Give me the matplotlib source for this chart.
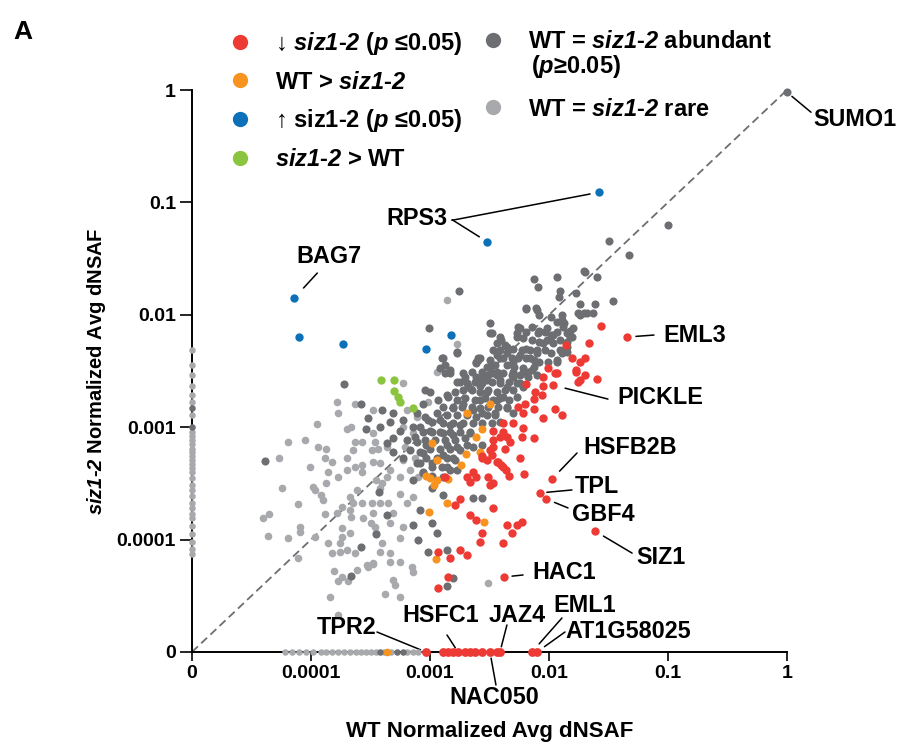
import numpy as np
import matplotlib
matplotlib.use("Agg")
import matplotlib.pyplot as plt
from matplotlib.lines import Line2D

# === Colours ===
RED = "#EE3A35"
ORANGE = "#F7931E"
BLUE = "#0C71B9"
GREEN = "#8BC53F"
DARK = "#6D6E71"
LIGHT = "#A7A9AC"

# === Data: (log10 WT dNSAF, log10 siz1-2 dNSAF) ===
abundant_log = [
    (-1.00, -1.20), (-1.50, -1.34), (-1.33, -1.47), (-1.70, -1.62), (-1.60, -1.66), (-1.46, -1.88),
    (-1.61, -1.90), (-1.68, -1.98), (-1.74, -2.00), (-2.13, -1.68), (-1.93, -1.66), (-2.09, -1.75),
    (-2.76, -1.79), (-1.71, -1.61), (-1.91, -1.79), (-1.92, -1.84), (-1.77, -1.81), (-2.19, -1.94),
    (-2.10, -1.96), (-2.08, -2.00), (-1.74, -1.90), (-1.71, -1.98), (-1.89, -2.00), (-1.87, -2.07),
    (-3.01, -2.12), (-2.50, -2.07), (-2.14, -2.11), (-2.09, -2.16), (-2.03, -2.15), (-1.97, -2.18),
    (-1.85, -2.16), (-1.80, -2.12), (-2.24, -2.12), (-2.27, -2.20), (-2.41, -2.20), (-2.50, -2.16),
    (-2.77, -2.33), (-2.89, -2.38), (-2.61, -2.42), (-2.60, -2.38), (-2.44, -2.25), (-2.37, -2.27),
    (-2.47, -2.31), (-2.41, -2.38), (-2.35, -2.34), (-2.30, -2.42), (-2.24, -2.36), (-2.19, -2.30),
    (-2.16, -2.38), (-2.10, -2.31), (-2.05, -2.25), (-1.99, -2.22), (-1.85, -2.29), (-1.82, -2.20),
    (-1.89, -2.34), (-1.93, -2.42), (-2.13, -2.46), (-2.30, -2.51), (-2.22, -2.52), (-2.44, -2.51),
    (-2.50, -2.46), (-2.72, -2.52), (-2.83, -2.52), (-2.87, -2.45), (-2.56, -2.55),
    (-2.83, -2.49), (-2.75, -2.60), (-2.68, -2.63), (-2.61, -2.55), (-2.58, -2.63), (-2.52, -2.58),
    (-2.47, -2.52), (-2.41, -2.58), (-2.35, -2.64), (-2.30, -2.55), (-2.24, -2.61), (-2.18, -2.51),
    (-2.52, -2.69), (-2.58, -2.76), (-2.44, -2.76), (-2.39, -2.73), (-2.35, -2.82), (-2.27, -2.73),
    (-2.30, -2.87), (-2.45, -2.87), (-2.56, -2.87), (-2.64, -2.85), (-2.72, -2.79), (-2.81, -2.82),
    (-2.86, -2.71), (-2.93, -2.76), (-3.00, -2.69), (-3.06, -2.79), (-3.11, -2.87), (-3.02, -2.94),
    (-2.92, -2.94), (-2.83, -2.98), (-2.75, -2.98), (-2.66, -3.05), (-2.81, -3.07), (-2.89, -3.05),
    (-2.98, -3.04), (-3.06, -3.04), (-3.14, -3.00), (-3.23, -2.94), (-3.31, -2.87), (-3.40, -2.85),
    (-3.34, -2.95), (-3.42, -3.00), (-3.25, -3.03), (-3.31, -3.10), (-3.11, -3.13), (-3.03, -3.16),
    (-2.86, -3.16), (-2.77, -3.18), (-2.69, -3.16), (-2.64, -3.18), (-2.56, -3.16), (-3.06, -3.23),
    (-2.89, -3.25), (-2.81, -3.27), (-2.98, -3.32), (-2.86, -3.35), (-2.77, -3.38), (-3.11, -3.32),
    (-3.23, -3.27), (-3.31, -3.22), (-3.36, -3.14), (-3.06, -3.41), (-3.14, -3.47), (-2.98, -3.54),
    (-2.89, -3.60), (-2.64, -3.63), (-2.56, -3.63), (-3.08, -3.74), (-3.14, -3.87), (-2.98, -3.85),
    (-2.94, -3.94), (-3.10, -4.00), (-3.02, -4.11), (-2.86, -4.09), (-2.81, -4.34), (-2.86, -4.41),
    (-3.72, -2.62), (-4.39, -3.30), (-3.58, -2.79), (-3.52, -2.92), (-3.54, -3.02), (-3.43, -3.58),
    (-3.45, -3.95), (-3.58, -4.07), (-3.36, -3.78), (-3.66, -4.32),
    (-2.19, -1.95), (-2.11, -1.94), (-1.98, -2.02), (-1.93, -2.06), (-1.89, -2.05), (-1.76, -1.98),
    (-1.63, -1.98), (-2.26, -2.11), (-2.19, -2.15), (-2.08, -2.14), (-2.02, -2.12), (-1.98, -2.18),
    (-1.93, -2.15), (-1.88, -2.11), (-1.82, -2.14), (-1.81, -2.20), (-1.85, -2.24), (-1.91, -2.22),
    (-1.97, -2.25), (-2.02, -2.22), (-2.08, -2.24), (-2.14, -2.22), (-2.22, -2.21), (-2.27, -2.16),
    (-2.48, -2.16), (-2.40, -2.22), (-2.35, -2.29), (-2.41, -2.31), (-2.30, -2.30), (-2.23, -2.31),
    (-2.16, -2.31), (-2.10, -2.34), (-2.03, -2.31), (-1.98, -2.34), (-1.91, -2.31), (-1.85, -2.33),
    (-1.93, -2.40), (-2.01, -2.42), (-2.08, -2.42), (-2.13, -2.40), (-2.19, -2.38), (-2.26, -2.38),
    (-2.31, -2.38), (-2.39, -2.38), (-2.44, -2.36), (-2.50, -2.40), (-2.58, -2.38), (-2.61, -2.43),
    (-2.52, -2.46), (-2.45, -2.45), (-2.35, -2.45), (-2.29, -2.46), (-2.22, -2.47), (-2.14, -2.49),
    (-2.10, -2.54), (-2.18, -2.55), (-2.24, -2.54), (-2.31, -2.54), (-2.39, -2.52), (-2.44, -2.54),
    (-2.51, -2.54), (-2.56, -2.51), (-2.65, -2.51), (-2.71, -2.55), (-2.77, -2.60), (-2.69, -2.61),
    (-2.62, -2.60), (-2.56, -2.61), (-2.48, -2.60), (-2.41, -2.61), (-2.34, -2.60), (-2.27, -2.61),
    (-2.22, -2.64), (-2.30, -2.67), (-2.37, -2.67), (-2.44, -2.69), (-2.51, -2.67), (-2.58, -2.69),
    (-2.65, -2.67), (-2.72, -2.67), (-2.79, -2.69), (-2.85, -2.73), (-2.77, -2.76), (-2.71, -2.74),
    (-2.62, -2.76), (-2.54, -2.74), (-2.47, -2.76), (-2.41, -2.74), (-2.34, -2.76), (-2.35, -2.83),
    (-2.43, -2.82), (-2.51, -2.82), (-2.58, -2.83), (-2.65, -2.82), (-2.73, -2.82), (-2.81, -2.83),
    (-2.89, -2.82), (-2.94, -2.87), (-2.86, -2.89), (-2.77, -2.89), (-2.69, -2.89), (-2.61, -2.91),
    (-2.52, -2.89), (-2.45, -2.89), (-2.41, -2.95), (-2.48, -2.96), (-2.56, -2.96), (-2.64, -2.96),
    (-2.72, -2.96), (-2.81, -2.96), (-2.89, -2.96), (-2.98, -2.95), (-3.04, -2.91), (-3.08, -3.00),
    (-3.00, -3.03), (-2.92, -3.04), (-2.83, -3.04), (-2.75, -3.04), (-2.66, -3.04), (-2.71, -3.10),
    (-2.79, -3.11), (-2.87, -3.11), (-2.96, -3.11), (-3.04, -3.11), (-3.13, -3.09), (-3.19, -3.11),
    (-3.00, -3.19), (-2.92, -3.19), (-2.83, -3.19), (-2.75, -3.20), (-3.08, -3.22), (-3.17, -3.20),
    (-3.03, -3.27), (-2.94, -3.27), (-2.86, -3.27), (-2.79, -3.29), (-2.90, -3.35), (-2.98, -3.35),
    (-3.08, -3.32), (-2.83, -3.38), (-2.89, -3.44), (-2.98, -3.43), (-3.06, -3.40), (-2.77, -2.34),
    (-2.90, -2.38), (-2.92, -2.47), (-2.87, -2.52), (-3.04, -2.67), (-2.60, -2.40),
]

rare_log = [
    (-3.78, -2.78), (-3.77, -2.87), (-3.95, -2.97), (-3.70, -3.02), (-3.66, -3.00), (-3.63, -2.79),
    (-4.19, -3.13), (-4.05, -3.11), (-3.94, -3.18), (-3.87, -3.19), (-4.27, -3.27), (-3.88, -3.27),
    (-3.82, -3.31), (-4.01, -3.35), (-3.86, -3.40), (-3.77, -3.44), (-3.70, -3.27), (-3.63, -3.13),
    (-3.57, -3.13), (-3.65, -3.20), (-3.70, -3.38), (-3.63, -3.35), (-3.57, -3.34), (-3.57, -3.40),
    (-3.87, -3.50), (-4.24, -3.54), (-3.98, -3.53), (-3.97, -3.56), (-3.92, -3.60), (-3.90, -3.65),
    (-4.11, -3.68), (-4.40, -3.81), (-4.35, -3.77), (-4.36, -3.97), (-4.19, -3.99), (-4.09, -3.89),
    (-4.09, -3.93), (-3.97, -3.98), (-3.88, -3.77), (-3.78, -3.76), (-3.74, -3.71), (-3.67, -3.62),
    (-3.61, -3.56), (-3.65, -3.67), (-3.57, -3.67), (-3.67, -3.74), (-3.66, -3.80), (-3.56, -3.81),
    (-3.48, -3.76), (-3.49, -3.67), (-3.50, -3.85), (-3.46, -3.89), (-3.45, -3.94), (-3.40, -4.03),
    (-3.74, -3.90), (-3.74, -3.98), (-3.67, -3.94), (-3.86, -4.03), (-3.76, -4.03), (-3.82, -4.12),
    (-3.76, -4.11), (-3.70, -4.09), (-3.63, -4.12), (-4.11, -4.16), (-3.53, -4.23), (-3.48, -4.21),
    (-3.42, -4.11), (-3.48, -2.85), (-3.48, -3.05), (-3.46, -3.13), (-3.49, -3.20), (-3.44, -3.19),
    (-3.36, -3.18), (-3.42, -3.32), (-3.48, -3.31), (-3.36, -3.44), (-3.45, -3.47), (-3.42, -3.54),
    (-3.42, -3.67), (-3.35, -3.67), (-3.81, -4.28), (-3.74, -4.33), (-3.69, -4.37), (-3.77, -4.37),
    (-3.61, -4.27), (-3.52, -4.24), (-3.48, -4.22), (-3.84, -4.51), (-3.38, -4.48), (-3.77, -4.67),
    (-3.34, -4.20), (-3.25, -4.20), (-3.15, -4.24), (-3.31, -4.36), (-3.29, -4.40), (-3.14, -4.29),
    (-3.25, -4.51), (-2.51, -4.39), (-2.86, -1.87), (-2.77, -2.26), (-2.94, -2.51),
    (-3.34, -3.38), (-3.25, -3.44), (-3.40, -3.50), (-3.25, -3.59), (-3.14, -3.62), (-3.19, -3.67),
    (-3.31, -3.76), (-3.34, -3.85), (-3.23, -3.89), (-3.25, -3.99), (-3.34, -4.12),
    (-3.23, -2.61), (-3.02, -2.78), (-3.19, -2.85), (-3.11, -2.91), (-3.23, -3.00), (-3.14, -3.05),
    (-3.21, -3.18), (-3.13, -3.27), (-3.23, -3.29), (-3.17, -3.38), (-3.10, -3.44),
]

down_log = [
    (-2.19, -2.62), (-2.05, -2.55), (-2.05, -2.63), (-1.93, -2.52), (-1.77, -2.51), (-1.76, -2.60),
    (-2.20, -2.79), (-2.26, -2.82), (-2.22, -2.87), (-2.13, -2.84), (-2.05, -2.92), (-1.95, -2.84),
    (-1.89, -2.89), (-2.39, -2.96), (-2.30, -2.96), (-2.47, -3.03), (-2.39, -3.04), (-2.35, -3.09),
    (-2.22, -3.01), (-2.23, -3.09), (-2.13, -3.10), (-2.47, -3.11), (-2.50, -3.20), (-2.37, -3.19),
    (-2.56, -3.26), (-2.52, -3.29), (-2.43, -3.31), (-2.39, -3.35), (-2.24, -3.27), (-2.64, -3.40),
    (-2.69, -3.44), (-2.51, -3.44), (-2.50, -3.51), (-2.47, -3.50), (-2.66, -3.49), (-2.34, -3.43),
    (-2.21, -3.42), (-2.87, -3.44), (-2.75, -3.64), (-2.79, -3.69), (-2.47, -3.72), (-2.66, -3.78),
    (-2.61, -3.83), (-2.56, -3.94), (-2.58, -4.02), (-2.35, -3.87), (-2.27, -3.87), (-2.23, -3.84),
    (-2.31, -3.94), (-2.39, -4.03), (-2.75, -4.09), (-2.69, -4.14), (-2.83, -4.16), (-2.93, -4.11),
    (-2.85, -4.33), (-2.93, -4.43), (-1.56, -2.10), (-1.66, -2.25), (-1.70, -2.38), (-1.70, -2.54),
    (-1.60, -2.57), (-1.74, -2.58), (-1.81, -2.38), (-1.74, -2.42), (-2.01, -2.47), (-1.95, -2.52),
    (-1.86, -2.27), (-2.12, -2.69), (-2.06, -2.71), (-2.13, -2.75), (-1.77, -2.49), (-2.41, -3.09),
    (-2.33, -3.13), (-2.47, -3.18), (-2.48, -3.25), (-2.56, -3.27), (-2.44, -3.31), (-2.40, -3.34),
    (-2.36, -3.38), (-2.61, -3.44),
]

wt_higher_log = [
    (-2.50, -2.79), (-2.69, -2.87), (-2.56, -3.02), (-2.61, -3.09), (-2.98, -3.14), (-2.58, -3.22),
    (-2.70, -3.24), (-2.94, -3.29), (-2.74, -3.34), (-3.03, -3.43), (-3.00, -3.45), (-2.94, -3.47),
    (-2.97, -3.51), (-2.85, -3.46), (-2.86, -3.67), (-3.01, -3.75), (-2.55, -3.84), (-2.95, -4.17),
]

up_log = [(-4.10, -2.20), (-3.73, -2.26), (-3.03, -2.30), (-2.82, -2.18)]

siz_higher_log = [
    (-3.41, -2.58), (-3.30, -2.58), (-3.30, -2.68), (-3.27, -2.73), (-3.25, -2.78), (-3.14, -2.83),
]

# proteins found in only one genotype (value 0 on the other axis), log10 of the non-zero value
rare_wt_only_log = [
    -4.22, -4.16, -4.10, -4.04, -3.98, -3.92, -3.87, -3.82, -3.77, -3.72, -3.67, -3.62,
    -3.58, -3.54, -3.50, -3.45, -3.39, -3.33, -3.19, -3.14, -3.10,
]
abundant_wt_only_log = [-3.42, -3.28, -3.23]
wt_higher_wt_only_log = [-3.36]
down_wt_only_log = [-2.89, -2.85, -2.81, -2.71, -2.66, -2.62, -2.56, -2.44]
rare_siz_only_log = [
    -2.31, -2.45, -2.54, -2.63, -2.71, -2.78, -2.89, -3.04, -3.08, -3.11, -3.15, -3.19,
    -3.22, -3.26, -3.29, -3.33, -3.36, -3.40, -3.45, -3.51, -3.56, -3.61, -3.67, -3.72,
    -3.77, -3.81, -3.88, -3.95, -4.02, -4.08, -4.13,
]
abundant_siz_only_log = [-2.83, -3.00]

# labelled proteins (actual normalized dNSAF values)
label_names = ["SUMO1", "RPS3", "RPS3", "BAG7", "EML3", "PICKLE", "HSFB2B", "TPL", "GBF4",
               "SIZ1", "HAC1", "TPR2", "HSFC1", "JAZ4", "NAC050", "EML1", "AT1G58025"]
label_groups = ["abundant", "up", "up", "up", "down", "down", "down", "down", "down",
                "down", "down", "down", "down", "down", "down", "down", "down"]
label_wt = [1.0, 3.02e-3, 2.63e-2, 7.24e-5, 4.52e-2, 1.08e-2, 1.06e-2, 8.39e-3, 9.44e-3,
            2.44e-2, 4.19e-3, 9.25e-4, 1.72e-3, 3.87e-3, 3.19e-3, 7.19e-3, 7.93e-3]
label_siz = [0.955, 4.47e-2, 0.123, 1.41e-2, 6.34e-3, 2.37e-3, 3.46e-4, 2.60e-4, 2.30e-4,
             1.19e-4, 4.65e-5, 0, 0, 0, 0, 0, 0]

# label layout: text offset (px), ha, leader start offset (px), leader gap at point (pt)
label_layout = {
    0: ((26, -27), "left", (24, -20), 4.6),
    1: ((-40, 23), "right", (-35, 22), 6.6),
    2: (None, None, (-147, -28), 6.5),
    3: ((35, 42), "center", (23, 25), 9.8),
    4: ((36, 2), "left", (27, 2), 6.5),
    5: ((64, -12), "left", (55, -14), 9.0),
    6: ((31, 32), "left", (25, 26), 7.8),
    7: ((35, 6), "left", (32, 3), 5.0),
    8: ((26, -16), "left", (22, -9), 6.6),
    9: ((41, -26), "left", (37, -22), 7.0),
    10: ((28, 4), "left", (19, 2), 5.8),
    11: ((-79, 25), "center", (-49, 20), 4.2),
    12: ((-17, 37), "center", (-11, 17), 3.6),
    13: ((17, 37), "center", (7, 27), 3.9),
    14: ((4, -45), "center", (6, -33), 4.5),
    15: ((53, 47), "center", (30, 34), 7.8),
    16: ((91, 20), "center", (28, 20), 6.6),
}

ticks = [0, 1e-4, 1e-3, 1e-2, 0.1, 1]
tick_labels = ["0", "0.0001", "0.001", "0.01", "0.1", "1"]

# === Style ===
plt.rcParams["font.family"] = ["Liberation Sans", "DejaVu Sans"]
plt.rcParams["font.weight"] = "bold"
plt.rcParams["mathtext.fontset"] = "custom"
plt.rcParams["mathtext.rm"] = "Liberation Sans:bold:italic"   # digits inside \mathit come from rm
plt.rcParams["mathtext.it"] = "Liberation Sans:bold:italic"
plt.rcParams["mathtext.bf"] = "Liberation Sans:bold"


def unlog(pairs):
    a = np.array(pairs, dtype=float)
    return 10.0 ** a[:, 0], 10.0 ** a[:, 1]


def fwd(v):
    return np.log10(np.maximum(np.asarray(v, dtype=float), 1e-5))


def inv(u):
    return 10.0 ** np.asarray(u, dtype=float)


fig = plt.figure(figsize=(9.01, 7.46), dpi=100)
ax = fig.add_axes([192 / 901, 94 / 746, 595 / 901, 562 / 746])
ax.set_xscale("function", functions=(fwd, inv))
ax.set_yscale("function", functions=(fwd, inv))
ax.set_xlim(0, 1)
ax.set_ylim(0, 1)

# diagonal
ax.plot([0, 1], [0, 1], ls=(0, (4.5, 2.5)), color=DARK, lw=1.3, zorder=1)

groups = {
    "rare": (rare_log, LIGHT, 30),
    "abundant": (abundant_log, DARK, 34),
    "wt_higher": (wt_higher_log, ORANGE, 34),
    "down": (down_log, RED, 36),
    "up": (up_log, BLUE, 36),
    "siz_higher": (siz_higher_log, GREEN, 36),
}
for name, (pairs, col, size) in groups.items():
    x, y = unlog(pairs)
    sel = [i for i, g in enumerate(label_groups) if g == name]
    x = np.concatenate([x, np.array(label_wt)[sel]]) if sel else x
    y = np.concatenate([y, np.array(label_siz)[sel]]) if sel else y
    keep = (x > 0) & (y > 0)
    ax.scatter(x[keep], y[keep], s=size, color=col, linewidths=0, zorder=3, clip_on=False)

# points lying on the axes
ax.scatter(10.0 ** np.array(rare_wt_only_log), np.zeros(len(rare_wt_only_log)),
           s=22, color=LIGHT, linewidths=0, zorder=4, clip_on=False)
ax.scatter(10.0 ** np.array(abundant_wt_only_log), np.zeros(len(abundant_wt_only_log)),
           s=22, color=DARK, linewidths=0, zorder=4, clip_on=False)
ax.scatter(10.0 ** np.array(wt_higher_wt_only_log), np.zeros(1),
           s=30, color=ORANGE, linewidths=0, zorder=4, clip_on=False)
ax.scatter(10.0 ** np.array(down_wt_only_log), np.zeros(len(down_wt_only_log)),
           s=40, color=RED, linewidths=0, zorder=4, clip_on=False)
ax.scatter(np.zeros(len(rare_siz_only_log)), 10.0 ** np.array(rare_siz_only_log),
           s=22, color=LIGHT, linewidths=0, zorder=4, clip_on=False)
ax.scatter(np.zeros(len(abundant_siz_only_log)), 10.0 ** np.array(abundant_siz_only_log),
           s=22, color=DARK, linewidths=0, zorder=4, clip_on=False)
zero_lab = [i for i, v in enumerate(label_siz) if v == 0]
ax.scatter(np.array(label_wt)[zero_lab], np.zeros(len(zero_lab)),
           s=40, color=RED, linewidths=0, zorder=4, clip_on=False)

# labels and leader lines
for i, name in enumerate(label_names):
    toff, ha, loff, gap = label_layout[i]
    pt = (label_wt[i], label_siz[i])
    ax.annotate("", xy=pt, xytext=loff, textcoords="offset pixels", annotation_clip=False,
                arrowprops=dict(arrowstyle="-", color="black", lw=1.1, shrinkA=0, shrinkB=gap))
    if toff is not None:
        ax.annotate(name, xy=pt, xytext=toff, textcoords="offset pixels", ha=ha, va="center",
                    fontsize=16.8, fontweight="bold", annotation_clip=False, zorder=5)

# axes
ax.set_xticks(ticks, tick_labels)
ax.set_yticks(ticks, tick_labels)
ax.minorticks_off()
for s in ["top", "right"]:
    ax.spines[s].set_visible(False)
for s in ["left", "bottom"]:
    ax.spines[s].set_linewidth(1.4)
ax.tick_params(axis="x", length=6.5, width=1.2, labelsize=14, pad=3)
ax.tick_params(axis="y", length=8.5, width=1.2, labelsize=14, pad=3)

ax.set_xlabel("WT Normalized Avg dNSAF", fontsize=16, fontweight="bold")
ax.xaxis.label.set_va("center")
ax.xaxis.set_label_coords(0.5, -0.142)
ax.set_ylabel(r"$\mathit{siz1}$-$\mathit{2}$ Normalized Avg dNSAF", fontsize=14.5, fontweight="bold")
ax.yaxis.label.set_va("center")
ax.yaxis.set_label_coords(-0.161, 0.5)

# legends
def handle(c):
    return Line2D([], [], marker="o", ls="", color=c, markersize=11, markeredgewidth=0)


left_labels = [
    r"↓ $\mathit{siz1}$-$\mathit{2}$ ($\mathit{p}$ ≤0.05)",
    r"WT > $\mathit{siz1}$-$\mathit{2}$",
    r"↑ siz1-2 ($\mathit{p}$ ≤0.05)",
    r"$\mathit{siz1}$-$\mathit{2}$ > WT",
]
fig.legend([handle(c) for c in [RED, ORANGE, BLUE, GREEN]], left_labels,
           loc="upper left", bbox_to_anchor=(0.2533, 0.9598), frameon=False,
           borderaxespad=0, borderpad=0, handlelength=1.0, handletextpad=1.0,
           labelspacing=0.58, fontsize=17)
right_labels = [
    r"WT = $\mathit{siz1}$-$\mathit{2}$ abundant",
    r"WT = $\mathit{siz1}$-$\mathit{2}$ rare",
]
fig.legend([handle(c) for c in [DARK, LIGHT]], right_labels,
           loc="upper left", bbox_to_anchor=(0.5341, 0.9598), frameon=False,
           borderaxespad=0, borderpad=0, handlelength=1.0, handletextpad=1.0,
           labelspacing=1.89, fontsize=17)
fig.text(531 / 901, 1 - 67 / 746, r"($\mathit{p}$≥0.05)", fontsize=17, fontweight="bold",
         ha="left", va="center")

fig.text(23 / 901, 1 - 32 / 746, "A", fontsize=19, fontweight="bold", ha="center", va="center")

fig.savefig("out.png", dpi=100)
